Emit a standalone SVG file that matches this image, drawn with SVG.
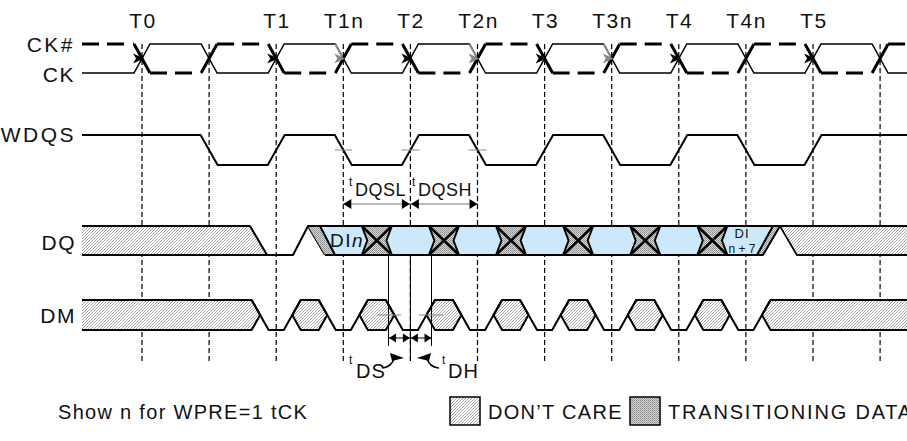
<svg xmlns="http://www.w3.org/2000/svg" width="907" height="441" viewBox="0 0 907 441">
<defs>
<pattern id="hatch" patternUnits="userSpaceOnUse" width="3" height="3"><rect width="3" height="3" fill="#fff"/><path d="M-1,1 L1,-1 M0,3 L3,0 M2,4 L4,2" stroke="#9a9a9a" stroke-width="0.9"/></pattern>
<pattern id="trans" patternUnits="userSpaceOnUse" width="2" height="2"><rect width="2" height="2" fill="#d6d6d6"/><rect width="1" height="1" fill="#8a8a8a"/><rect x="1" y="1" width="1" height="1" fill="#a0a0a0"/></pattern>
</defs>
<style>
text{font-family:"Liberation Sans",Arial,sans-serif;fill:#111}
.lbl{font-size:21px;letter-spacing:1.5px}
.grid{stroke:#000;stroke-width:1.2;stroke-dasharray:5 3;fill:none}
.thin{stroke:#000;stroke-width:1.5;fill:none}
.sig{stroke:#000;stroke-width:2;fill:none;stroke-linejoin:round}
.ckn{stroke:#000;stroke-width:3;fill:none;stroke-dasharray:17 8 17 9}
.ckd{stroke:#000;stroke-width:3;fill:none}
.eye{fill:#cce9fb;stroke:#000;stroke-width:2;stroke-linejoin:round}
.hex{fill:url(#hatch);stroke:#000;stroke-width:2;stroke-linejoin:round}
.xl{stroke:#000;stroke-width:2.5;fill:none}
.tick{stroke:#888;stroke-width:1.2;fill:none}
.dim{stroke:#777;stroke-width:1.2;fill:none}
.ah{fill:#000}
.ahg{fill:#888}
.leg{font-size:20px;letter-spacing:1.3px}
</style>

<g id="grid" class="grid">
<path d="M142,44V361M209.1,44V361M276.2,44V361M343.3,44V361M410.4,44V361M477.5,44V361M544.6,44V361M611.7,44V361M678.8,44V361M745.9,44V361M813,44V361M880.1,44V361"/>
</g>

<g id="labels">
<text class="lbl" x="75" y="52" text-anchor="end" style="letter-spacing:2.5px">CK#</text>
<text class="lbl" x="75" y="82" text-anchor="end">CK</text>
<text class="lbl" x="76" y="142" text-anchor="end" style="letter-spacing:2.5px">WDQS</text>
<text class="lbl" x="76" y="250" text-anchor="end">DQ</text>
<text class="lbl" x="76" y="323" text-anchor="end">DM</text>
</g>

<g id="time-labels" class="lbl" text-anchor="middle">
<text x="143" y="28">T0</text>
<text x="277" y="28">T1</text>
<text x="344" y="28">T1n</text>
<text x="411" y="28">T2</text>
<text x="478.5" y="28">T2n</text>
<text x="545.5" y="28">T3</text>
<text x="612.5" y="28">T3n</text>
<text x="679.5" y="28">T4</text>
<text x="746.5" y="28">T4n</text>
<text x="814" y="28">T5</text>
</g>

<g id="CK">
<path class="thin" d="M82,73H134L150,44H201.1L217.1,73H268.2L284.2,44H335.3L351.3,73H402.4L418.4,44H469.5L485.5,73H536.6L552.6,44H603.7L619.7,73H670.8L686.8,44H737.9L753.9,73H805L821,44H872.1L888.1,73H907"/>
<path class="tick" style="stroke-width:2" d="M335.3,44L343.3,58.5M469.5,44L477.5,58.5M603.7,44L611.7,58.5"/>
</g>
<g id="CKn">
<path class="ckn" d="M82,44H134M217.1,44H268.2M351.3,44H402.4M485.5,44H536.6M619.7,44H670.8M753.9,44H805M888.1,44H907M150,73H201.1M284.2,73H335.3M418.4,73H469.5M552.6,73H603.7M686.8,73H737.9M821,73H872.1"/>
<path class="ckd" d="M134,44L150,73M201.1,73L217.1,44M268.2,44L284.2,73M335.3,73L351.3,44M402.4,44L418.4,73M469.5,73L485.5,44M536.6,44L552.6,73M603.7,73L619.7,44M670.8,44L686.8,73M737.9,73L753.9,44M805,44L821,73M872.1,73L888.1,44"/>
</g>
<g id="ck-marks">
<polygon class="ah" points="144,58.5 133,53.5 136,58.5 133,63.5"/>
<polygon class="ah" points="278.2,58.5 267.2,53.5 270.2,58.5 267.2,63.5"/>
<polygon class="ahg" points="345.3,58.5 334.3,53.5 337.3,58.5 334.3,63.5"/>
<polygon class="ah" points="412.4,58.5 401.4,53.5 404.4,58.5 401.4,63.5"/>
<polygon class="ahg" points="479.5,58.5 468.5,53.5 471.5,58.5 468.5,63.5"/>
<polygon class="ah" points="546.6,58.5 535.6,53.5 538.6,58.5 535.6,63.5"/>
<polygon class="ahg" points="613.7,58.5 602.7,53.5 605.7,58.5 602.7,63.5"/>
<polygon class="ah" points="680.8,58.5 669.8,53.5 672.8,58.5 669.8,63.5"/>
<polygon class="ah" points="815,58.5 804,53.5 807,58.5 804,63.5"/>
</g>

<g id="WDQS">
<path class="sig" d="M82,135H200.6L217.6,165H267.7L284.7,135H334.8L351.8,165H401.9L418.9,135H469L486,165H536.1L553.1,135H603.2L620.2,165H670.3L687.3,135H737.4L754.4,165H804.5L821.5,135H907"/>
<path class="tick" d="M335,150H352M401.5,150H419.5M468.5,150H486.5"/>
</g>

<g id="tDQS">
<path class="dim" d="M343.3,204H477.5"/>
<polygon class="ah" points="343.3,204 351.3,199 351.3,209"/>
<polygon class="ah" points="409.9,204 401.9,199 401.9,209"/>
<polygon class="ah" points="410.9,204 418.9,199 418.9,209"/>
<polygon class="ah" points="477.5,204 469.5,199 469.5,209"/>
<text x="349" y="186" font-size="12">t</text><text x="355" y="196" font-size="18" letter-spacing="0.5">DQSL</text>
<text x="412" y="186" font-size="12">t</text><text x="418" y="196" font-size="18" letter-spacing="0.5">DQSH</text>
</g>

<g id="DQ">
<polygon fill="url(#hatch)" points="82,226 250,226 267,255 82,255"/>
<path class="sig" d="M82,226H250L267,255M82,255H293L308,226L325,255"/>
<polygon fill="url(#trans)" points="308,226 780,226 763,255 325,255"/>
<path class="xl" d="M361.8,226L391.9,255M361.8,255L391.9,226M428.9,226L459,255M428.9,255L459,226M496,226L526.1,255M496,255L526.1,226M563.1,226L593.2,255M563.1,255L593.2,226M630.2,226L660.3,255M630.2,255L660.3,226M697.3,226L727.4,255M697.3,255L727.4,226"/>
<polygon class="eye" points="320,226 361.8,226 367.3,240.5 361.8,255 335,255"/>
<polygon class="eye" points="386.4,240.5 391.9,226 428.9,226 434.4,240.5 428.9,255 391.9,255"/>
<polygon class="eye" points="453.5,240.5 459,226 496,226 501.5,240.5 496,255 459,255"/>
<polygon class="eye" points="520.6,240.5 526.1,226 563.1,226 568.6,240.5 563.1,255 526.1,255"/>
<polygon class="eye" points="587.7,240.5 593.2,226 630.2,226 635.7,240.5 630.2,255 593.2,255"/>
<polygon class="eye" points="654.8,240.5 660.3,226 697.3,226 702.8,240.5 697.3,255 660.3,255"/>
<polygon class="eye" points="721.9,240.5 727.4,226 773,226 757,255 727.4,255"/>
<path class="sig" d="M308,226H780M325,255H763L780,226L797,255H907M780,226H907"/>
<polygon fill="url(#hatch)" points="781.5,227 907,227 907,254 797.5,254"/>
<text x="330" y="247" font-size="19" letter-spacing="1.5">DI<tspan font-style="italic">n</tspan></text>
<text x="742" y="238" font-size="13" text-anchor="middle" letter-spacing="1">DI</text>
<text x="742" y="253" font-size="12" text-anchor="middle">n + 7</text>
</g>

<g id="DM">
<polygon fill="url(#hatch)" points="82,300 251.65,300 260.15,315 251.65,330 82,330"/>
<path class="sig" d="M82,300H251.65L260.15,315L251.65,330H82"/>
<polygon class="hex" points="292.25,315 300.75,300 318.75,300 327.25,315 318.75,330 300.75,330"/>
<polygon class="hex" points="359.35,315 367.85,300 385.85,300 394.35,315 385.85,330 367.85,330"/>
<polygon class="hex" points="426.45,315 434.95,300 452.95,300 461.45,315 452.95,330 434.95,330"/>
<polygon class="hex" points="493.55,315 502.05,300 520.05,300 528.55,315 520.05,330 502.05,330"/>
<polygon class="hex" points="560.65,315 569.15,300 587.15,300 595.65,315 587.15,330 569.15,330"/>
<polygon class="hex" points="627.75,315 636.25,300 654.25,300 662.75,315 654.25,330 636.25,330"/>
<polygon class="hex" points="694.85,315 703.35,300 721.35,300 729.85,315 721.35,330 703.35,330"/>
<polygon fill="url(#hatch)" points="761.95,315 770.45,300 907,300 907,330 770.45,330"/>
<path class="sig" d="M907,330H770.45L761.95,315L770.45,300"/>
<path class="sig" d="M251.65,300L268.65,330H283.75L300.75,300H318.75L335.75,330H350.85L367.85,300H385.85L402.85,330H417.95L434.95,300H452.95L469.95,330H485.05L502.05,300H520.05L537.05,330H552.15L569.15,300H587.15L604.15,330H619.25L636.25,300H654.25L671.25,330H686.35L703.35,300H721.35L738.35,330H753.45L770.45,300H907"/>
</g>

<g id="tDS-tDH">
<path class="thin" style="stroke-width:1" d="M388.5,256V346M431.5,256V346M410.4,256V361"/>
<path class="tick" d="M377,315H401M419,315H443"/>
<path class="thin" style="stroke-width:1" d="M389,338H431"/>
<polygon class="ah" points="389,338 396,333.5 396,342.5"/>
<polygon class="ah" points="409.9,338 402.9,333.5 402.9,342.5"/>
<polygon class="ah" points="410.9,338 417.9,333.5 417.9,342.5"/>
<polygon class="ah" points="431.5,338 424.5,333.5 424.5,342.5"/>
<path class="thin" d="M382,368Q392,367 394,358"/>
<polygon class="ah" points="390,353 404,358 392,361"/>
<path class="thin" d="M439,368Q429,367 427,358"/>
<polygon class="ah" points="431,353 417,358 429,361"/>
<text x="349" y="364" font-size="12">t</text><text x="356" y="378" font-size="20" letter-spacing="1">DS</text>
<text x="442" y="364" font-size="12">t</text><text x="448" y="378" font-size="20" letter-spacing="1">DH</text>
</g>

<g id="legend">
<text class="leg" x="58" y="419">Show n for WPRE=1 tCK</text>
<rect x="450" y="397" width="30" height="28" fill="url(#hatch)" stroke="#000" stroke-width="1.5"/>
<text class="leg" x="488" y="419">DON’T CARE</text>
<rect x="630" y="397" width="30" height="28" fill="url(#trans)" stroke="#000" stroke-width="1.5"/>
<text class="leg" x="668" y="419" style="letter-spacing:1.8px">TRANSITIONING DATA</text>
</g>
</svg>
